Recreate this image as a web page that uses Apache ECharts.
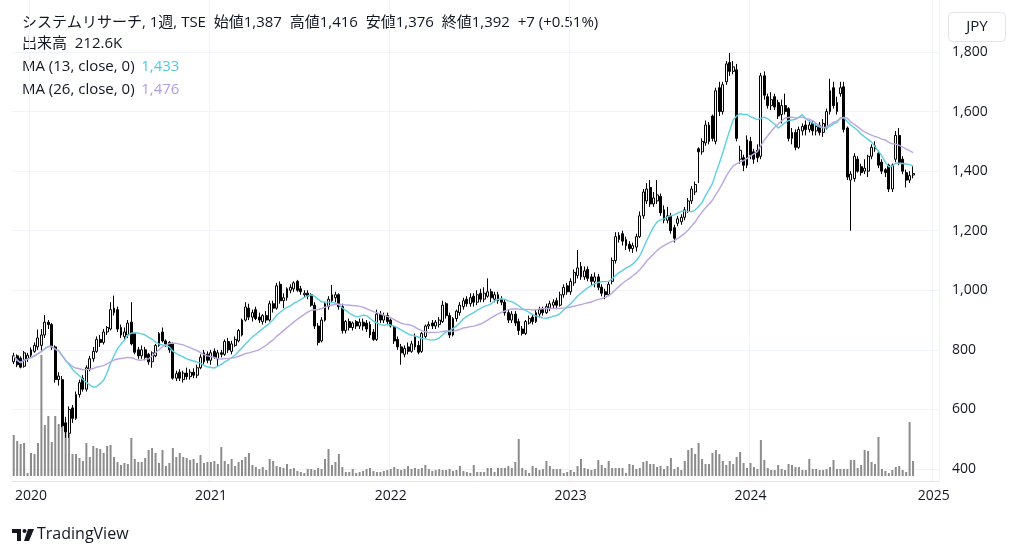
<!DOCTYPE html>
<html>
<head>
<meta charset="utf-8">
<script src="https://cdn.jsdelivr.net/npm/echarts@6/dist/echarts.min.js"></script>
<style>
  html, body { margin: 0; padding: 0; background: #ffffff; }
  #chart { width: 1024px; height: 557px; }
</style>
</head>
<body>
<div id="chart"></div>
<script>
// システムリサーチ 週足 (2019-12-02 〜 2024-11-25)
var openP = [
  760,780,772,745,770,782,795,810,815,850,893,885,810,700,700,555,520,605,570,650,
  705,668,735,770,795,835,825,860,870,925,935,875,845,850,893,855,800,780,800,785,
  760,780,815,860,830,825,820,705,725,700,722,710,725,715,740,790,785,765,795,770,
  790,785,828,795,815,830,850,900,940,910,935,910,895,915,900,955,940,1020,965,975,
  1000,1005,1030,1005,985,990,985,950,880,830,900,945,965,975,985,945,865,895,875,895,
  880,893,890,885,860,835,920,900,915,900,875,835,810,785,810,795,845,815,795,845,
  880,890,880,885,895,955,915,850,905,925,945,970,955,980,960,990,970,980,995,970,
  985,970,960,925,900,920,895,870,855,890,910,895,920,935,925,940,950,965,950,985,
  1015,995,1025,1050,1080,1045,1070,1045,1030,1045,1010,995,985,1030,1100,1170,1190,1170,1155,1140,
  1145,1180,1250,1300,1345,1290,1300,1315,1270,1235,1250,1210,1225,1230,1245,1265,1300,1330,1475,1465,
  1495,1555,1585,1500,1680,1600,1700,1765,1735,1740,1440,1445,1420,1500,1465,1470,1450,1720,1650,1620,
  1650,1630,1590,1620,1610,1510,1530,1480,1535,1555,1540,1560,1535,1555,1530,1545,1600,1680,1630,1660,
  1683,1545,1370,1375,1440,1415,1400,1400,1450,1485,1460,1430,1405,1420,1340,1440,1520,1440,1395,1370,
  1387
];
var closeP = [
  780,750,742,790,782,800,815,840,850,893,885,810,700,712,545,525,600,570,650,690,
  668,740,770,795,835,825,860,875,935,940,870,850,860,890,820,792,780,800,775,760,
  790,815,855,830,820,800,705,720,705,722,710,725,715,740,775,760,765,790,775,790,
  785,828,800,820,835,865,900,944,910,925,905,900,915,900,955,940,1015,965,975,1005,
  1010,1025,1000,995,990,980,950,880,825,900,955,970,985,985,945,865,895,875,890,880,
  893,880,870,850,835,920,900,915,895,880,830,810,790,805,795,820,810,792,855,880,
  885,880,893,900,950,915,850,905,930,950,965,955,975,960,985,970,990,995,975,985,
  965,960,925,900,920,890,865,855,895,905,895,925,935,925,945,955,960,950,985,1010,
  995,1030,1060,1075,1045,1065,1040,1030,1045,1010,990,985,1020,1100,1180,1185,1165,1150,1140,1150,
  1180,1250,1330,1340,1290,1310,1320,1260,1235,1250,1200,1175,1240,1245,1270,1300,1340,1355,1465,1500,
  1555,1500,1510,1670,1600,1690,1760,1735,1750,1510,1470,1420,1505,1455,1440,1445,1720,1655,1620,1640,
  1615,1585,1620,1600,1510,1530,1480,1540,1550,1540,1555,1535,1550,1530,1560,1600,1670,1620,1600,1680,
  1540,1380,1390,1450,1400,1395,1410,1450,1480,1475,1420,1400,1395,1340,1420,1520,1430,1400,1370,1385,
  1392
];
var lowP = [
  752,742,738,740,760,775,790,800,795,840,870,800,690,680,540,505,505,555,565,640,
  660,660,728,760,790,810,818,850,865,915,860,840,830,840,815,785,770,770,765,750,
  740,775,810,825,810,790,700,695,695,690,700,700,705,705,735,750,755,750,770,745,
  775,780,790,785,810,825,845,895,900,895,900,890,885,890,895,925,935,955,940,965,
  990,995,995,985,975,970,945,870,815,825,895,935,960,960,935,855,855,865,865,870,
  870,865,860,840,830,830,890,890,885,875,820,800,750,775,785,790,800,785,790,840,
  870,870,870,875,890,905,840,845,895,915,935,945,945,945,950,960,960,975,960,960,
  955,950,915,890,890,880,850,848,850,885,885,890,910,915,920,930,940,940,945,975,
  985,985,1015,1040,1035,1035,1030,1015,1010,1000,980,970,980,1020,1090,1160,1150,1135,1130,1125,
  1130,1175,1240,1290,1280,1280,1290,1250,1225,1225,1190,1160,1215,1220,1235,1260,1290,1320,1360,1455,
  1485,1490,1500,1490,1585,1590,1690,1720,1725,1500,1425,1400,1410,1440,1425,1430,1440,1640,1610,1605,
  1605,1575,1560,1590,1500,1490,1470,1475,1520,1520,1530,1520,1520,1520,1515,1540,1590,1610,1590,1650,
  1530,1370,1200,1365,1395,1385,1390,1380,1440,1465,1410,1390,1380,1330,1330,1430,1420,1390,1345,1360,
  1376
];
var highP = [
  790,785,778,796,790,808,825,868,870,917,900,890,815,725,712,575,610,615,660,700,
  715,748,780,810,845,850,870,880,960,982,945,885,875,900,960,860,810,815,810,790,
  795,820,860,875,835,830,825,730,735,730,740,735,738,750,785,800,795,800,805,800,
  800,835,840,830,845,870,905,960,955,935,945,925,920,930,965,965,1025,1030,990,1010,
  1020,1030,1035,1015,1000,1000,990,960,890,910,960,980,1018,995,990,955,900,905,895,900,
  905,905,900,895,870,935,930,925,925,905,880,845,820,815,825,830,855,830,860,885,
  895,900,900,910,965,960,925,910,935,960,975,980,990,990,1000,1005,1010,1040,1005,995,
  995,980,970,935,930,930,905,880,900,915,920,935,945,945,955,965,970,975,995,1020,
  1025,1040,1070,1135,1095,1080,1080,1055,1060,1055,1020,1005,1030,1110,1195,1195,1200,1180,1165,1160,
  1190,1265,1340,1360,1370,1330,1370,1325,1285,1280,1260,1220,1250,1255,1280,1310,1350,1365,1480,1510,
  1570,1565,1590,1680,1700,1700,1770,1797,1770,1760,1485,1455,1520,1515,1475,1490,1730,1735,1660,1665,
  1660,1640,1640,1660,1615,1545,1540,1550,1560,1570,1570,1570,1560,1565,1575,1610,1710,1700,1650,1700,
  1700,1550,1400,1460,1450,1425,1440,1455,1490,1500,1465,1440,1410,1425,1425,1535,1545,1450,1405,1400,
  1416
];
// 出来高 (千株)
var volumeK = [
  574,490,448,462,42,322,308,462,1694,714,840,476,840,728,868,700,602,308,308,252,
  210,462,266,420,392,378,322,420,434,266,196,154,182,168,532,238,196,196,252,364,
  392,322,182,364,140,182,392,266,322,266,252,224,238,182,294,182,196,196,210,168,
  406,210,168,238,140,196,224,266,322,154,126,98,126,84,238,210,140,126,112,168,
  98,112,70,56,42,98,98,84,112,98,238,378,154,196,308,126,56,56,98,42,
  56,70,98,112,70,56,56,70,84,98,126,98,84,98,140,98,112,98,112,154,
  98,70,84,98,84,84,98,70,84,140,70,56,42,154,56,56,56,112,112,56,
  112,112,112,140,112,196,518,112,84,42,140,112,84,98,210,140,98,98,98,42,
  56,84,56,140,238,112,98,84,98,224,154,112,210,112,112,112,112,42,168,154,
  98,112,196,210,168,168,126,140,98,140,252,98,126,84,210,364,392,308,462,238,
  168,168,322,364,308,210,154,210,168,266,336,182,112,182,126,98,504,224,112,84,
  84,154,98,84,168,154,126,126,84,84,238,98,98,84,84,98,126,224,98,98,
  98,98,224,224,112,154,364,350,196,168,546,98,70,42,84,126,140,84,56,756,
  210
];
var priceMin = 400;
var priceMax = 1800;
var priceStep = 200;
var firstWeekUTC = Date.UTC(2019, 11, 2);
var weekSlots = 268;   // 2025年1月まで軸を伸ばす

var weeks = [];
for (var k = 0; k < weekSlots; k++) {
  weeks.push(new Date(firstWeekUTC + k * 7 * 86400000).toISOString().slice(0, 10));
}
function yearStart(idx) {
  var d = weeks[idx];
  return d.slice(5, 7) === '01' && +d.slice(8, 10) <= 7;
}
function movingAvg(n) {
  return closeP.map(function (c, i) {
    var from = Math.max(0, i - n + 1), s = 0;
    for (var j = from; j <= i; j++) s += closeP[j];
    return +(s / (i - from + 1)).toFixed(1);
  });
}

var candles = openP.map(function (o, i) {
  return [o, closeP[i], lowP[i], highP[i]];
});
var FONT = '"Open Sans", "Noto Sans CJK JP", sans-serif';
var TEXT = '#131722';

var myChart = echarts.init(document.getElementById('chart'), null, { renderer: 'canvas' });

var hiddenX = function (gi) {
  return {
    type: 'category', gridIndex: gi, data: weeks, boundaryGap: true,
    axisLine: { show: false }, axisTick: { show: false },
    axisLabel: { show: false }, splitLine: { show: false }
  };
};

var option = {
  animation: false,
  backgroundColor: '#ffffff',
  grid: [
    { left: 12, right: 85, top: 52, height: 417 },   // 価格
    { left: 12, right: 85, top: 296, height: 180 },  // 出来高
    { left: 12, right: 85, top: 0, bottom: 76 }      // 枠・年ラベル
  ],
  xAxis: [
    hiddenX(0),
    hiddenX(1),
    {
      type: 'category', gridIndex: 2, data: weeks, boundaryGap: true,
      axisLine: { show: true, lineStyle: { color: '#e0e3eb' } },
      axisTick: { show: false },
      axisLabel: {
        interval: function (idx) { return yearStart(idx); },
        formatter: function (v) { return v.slice(0, 4); },
        color: TEXT, fontSize: 14, fontFamily: FONT, fontWeight: 500, margin: 8
      },
      splitLine: {
        show: true,
        interval: function (idx) { return yearStart(idx); },
        lineStyle: { color: '#f0f3fa', width: 1 }
      }
    }
  ],
  yAxis: [
    {
      type: 'value', gridIndex: 0, position: 'right',
      min: priceMin, max: priceMax, interval: priceStep,
      axisLine: { show: false }, axisTick: { show: false },
      axisLabel: {
        color: TEXT, fontSize: 14, fontFamily: FONT, margin: 13,
        formatter: function (v) { return v.toLocaleString('en-US'); }
      },
      splitLine: { show: true, lineStyle: { color: '#f0f3fa' } }
    },
    { type: 'value', gridIndex: 1, min: 0, max: 2520, show: false, splitLine: { show: false } },
    { type: 'value', gridIndex: 2, min: 0, max: 1, show: false, splitLine: { show: false } }
  ],
  series: [
    {
      name: '出来高', type: 'bar', xAxisIndex: 1, yAxisIndex: 1,
      data: volumeK, barWidth: 2, z: 1, silent: true,
      itemStyle: { color: '#8c8c8c' }
    },
    {
      name: 'price', type: 'candlestick', xAxisIndex: 0, yAxisIndex: 0,
      data: candles, barWidth: 2.4, z: 3,
      itemStyle: {
        color: '#ffffff', color0: '#000000',
        borderColor: '#000000', borderColor0: '#000000', borderWidth: 1
      }
    },
    {
      name: 'MA13', type: 'line', xAxisIndex: 0, yAxisIndex: 0,
      data: movingAvg(13), symbol: 'none', z: 4,
      lineStyle: { color: '#5ccfdf', width: 1.4 }
    },
    {
      name: 'MA26', type: 'line', xAxisIndex: 0, yAxisIndex: 0,
      data: movingAvg(26), symbol: 'none', z: 4,
      lineStyle: { color: '#b9a6e2', width: 1.4 }
    }
  ],
  graphic: [
    {
      type: 'text', left: 22, top: 15,
      style: { text: 'システムリサーチ, 1週, TSE  始値1,387  高値1,416  安値1,376  終値1,392  +7 (+0.51%)', font: '15px ' + FONT, fill: TEXT }
    },
    {
      type: 'text', left: 22, top: 36,
      style: { text: '出来高  212.6K', font: '15px ' + FONT, fill: TEXT }
    },
    {
      type: 'text', left: 22, top: 59,
      style: { rich: { a: { fill: TEXT, font: '15px ' + FONT }, b: { fill: '#4fcadb', font: '15px ' + FONT } }, text: '{a|MA (13, close, 0)}  {b|1,433}' }
    },
    {
      type: 'text', left: 22, top: 82,
      style: { rich: { a: { fill: TEXT, font: '15px ' + FONT }, b: { fill: '#b29ee0', font: '15px ' + FONT } }, text: '{a|MA (26, close, 0)}  {b|1,476}' }
    },
    {
      type: 'rect', shape: { x: 948.5, y: 12.5, width: 57, height: 29, r: 4 },
      style: { fill: '#ffffff', stroke: '#e0e3eb', lineWidth: 1 }
    },
    {
      type: 'text', x: 977, y: 27,
      style: { text: 'JPY', font: '15px ' + FONT, fill: TEXT, align: 'center', verticalAlign: 'middle' }
    },
    { type: 'rect', shape: { x: 12, y: 529, width: 9, height: 4 }, style: { fill: TEXT } },
    { type: 'rect', shape: { x: 17, y: 529, width: 4, height: 12 }, style: { fill: TEXT } },
    { type: 'circle', shape: { cx: 24.5, cy: 531, r: 2 }, style: { fill: TEXT } },
    { type: 'polygon', shape: { points: [[28, 529], [34, 529], [29, 541], [24, 541]] }, style: { fill: TEXT } },
    {
      type: 'text', left: 37, top: 526,
      style: { text: 'TradingView', font: '16px ' + FONT, fill: TEXT }
    }
  ]
};

myChart.setOption(option);
window.addEventListener('resize', function () { myChart.resize(); });
</script>
</body>
</html>
